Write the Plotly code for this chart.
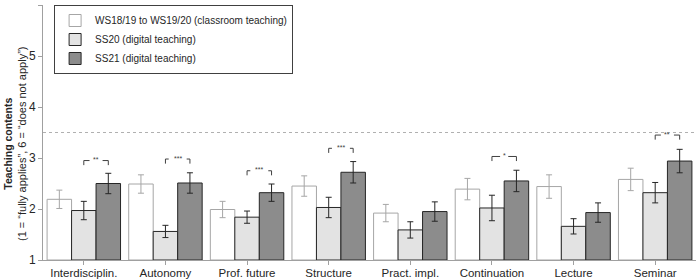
import plotly.graph_objects as go

categories = ["Interdisciplin.", "Autonomy", "Prof. future", "Structure",
              "Pract. impl.", "Continuation", "Lecture", "Seminar"]
series_names = ["WS18/19 to WS19/20 (classroom teaching)",
                "SS20 (digital teaching)", "SS21 (digital teaching)"]
ws_vals = [2.19, 2.49, 1.99, 2.45, 1.92, 2.39, 2.44, 2.58]
ws_err = [0.18, 0.18, 0.16, 0.20, 0.17, 0.21, 0.23, 0.22]
ss20_vals = [1.97, 1.56, 1.84, 2.03, 1.59, 2.02, 1.66, 2.32]
ss20_err = [0.18, 0.12, 0.12, 0.20, 0.16, 0.25, 0.15, 0.20]
ss21_vals = [2.50, 2.51, 2.32, 2.72, 1.95, 2.55, 1.93, 2.94]
ss21_err = [0.20, 0.20, 0.17, 0.21, 0.19, 0.21, 0.19, 0.23]
# significance brackets between SS20 and SS21: (category index, label, height)
sig_idx = [0, 1, 2, 3, 5, 7]
sig_labels = ["**", "***", "***", "***", "*", "**"]
sig_heights = [2.95, 2.98, 2.75, 3.19, 3.03, 3.45]
ref_line = 3.5
y_title_1 = "Teaching contents"
y_title_2 = "(1 = “fully applies”, 6 = “does not apply”)"

fig = go.Figure()
styles = [
    dict(fill="#ffffff", line="#a6a6a6", err="#a6a6a6"),
    dict(fill="#e3e3e3", line="#262626", err="#262626"),
    dict(fill="#8c8c8c", line="#262626", err="#262626"),
]
for name, vals, errs, st in zip(series_names, [ws_vals, ss20_vals, ss21_vals],
                                [ws_err, ss20_err, ss21_err], styles):
    fig.add_trace(go.Bar(
        x=list(range(len(categories))), y=[v - 1 for v in vals], base=1, name=name,
        marker=dict(color=st["fill"], line=dict(color=st["line"], width=1)),
        error_y=dict(type="data", array=errs, color=st["err"], thickness=1, width=3),
    ))

bar_w = 0.3
shapes = []
annotations = []
for i, lab, h in zip(sig_idx, sig_labels, sig_heights):
    x0 = i
    x1 = i + bar_w
    xm = (x0 + x1) / 2
    gap = 0.03 * len(lab) + 0.02
    tick = 0.09
    lc = dict(color="#404040", width=1)
    shapes += [
        dict(type="line", xref="x", yref="y", x0=x0, x1=x0, y0=h - tick, y1=h, line=lc),
        dict(type="line", xref="x", yref="y", x0=x0, x1=xm - gap, y0=h, y1=h, line=lc),
        dict(type="line", xref="x", yref="y", x0=xm + gap, x1=x1, y0=h, y1=h, line=lc),
        dict(type="line", xref="x", yref="y", x0=x1, x1=x1, y0=h - tick, y1=h, line=lc),
    ]
    annotations.append(dict(x=xm, y=h, xref="x", yref="y", text=lab, showarrow=False,
                            font=dict(size=7, color="#404040"), yanchor="middle", yshift=1))

shapes.append(dict(type="line", xref="paper", yref="y", x0=0, x1=1, y0=ref_line, y1=ref_line,
                   line=dict(color="#b0b0b0", width=1, dash="dot")))

annotations.append(dict(
    xref="paper", yref="paper", x=0, y=0.455, xanchor="right", yanchor="middle",
    xshift=-13, textangle=-90, showarrow=False,
    text=f"<b>{y_title_1}</b><br><span style='font-size:11px'>{y_title_2}</span>",
    font=dict(size=10.5, color="#262626"),
))

fig.update_layout(
    width=700, height=279,
    margin=dict(l=43, r=4, t=5, b=19, autoexpand=False),
    paper_bgcolor="white", plot_bgcolor="white",
    barmode="group", bargap=0.1, bargroupgap=0,
    font=dict(family="Liberation Sans, Arial", size=11, color="#262626"),
    shapes=shapes, annotations=annotations,
    legend=dict(x=0.017, y=1.0, xanchor="left", yanchor="top",
                bordercolor="#404040", borderwidth=1, bgcolor="white",
                font=dict(size=10), itemwidth=30, tracegroupgap=0),
    xaxis=dict(tickmode="array", tickvals=list(range(len(categories))), ticktext=categories,
               range=[-0.5, len(categories) - 0.5], showline=True, linecolor="#a0a0a0",
               ticks="outside", tickson="boundaries", ticklen=4, tickcolor="#a0a0a0",
               showgrid=False, tickfont=dict(size=11.5), automargin=False,
               ticklabelstandoff=-2),
    yaxis=dict(range=[1, 6], dtick=1, showline=True, linecolor="#a0a0a0", ticks="outside",
               ticklen=4, tickcolor="#a0a0a0", showgrid=False, zeroline=False,
               tickfont=dict(size=12), automargin=False),
)
fig.write_html("out.html", config={"displayModeBar": False},
               post_script="document.body.style.margin='0';")
